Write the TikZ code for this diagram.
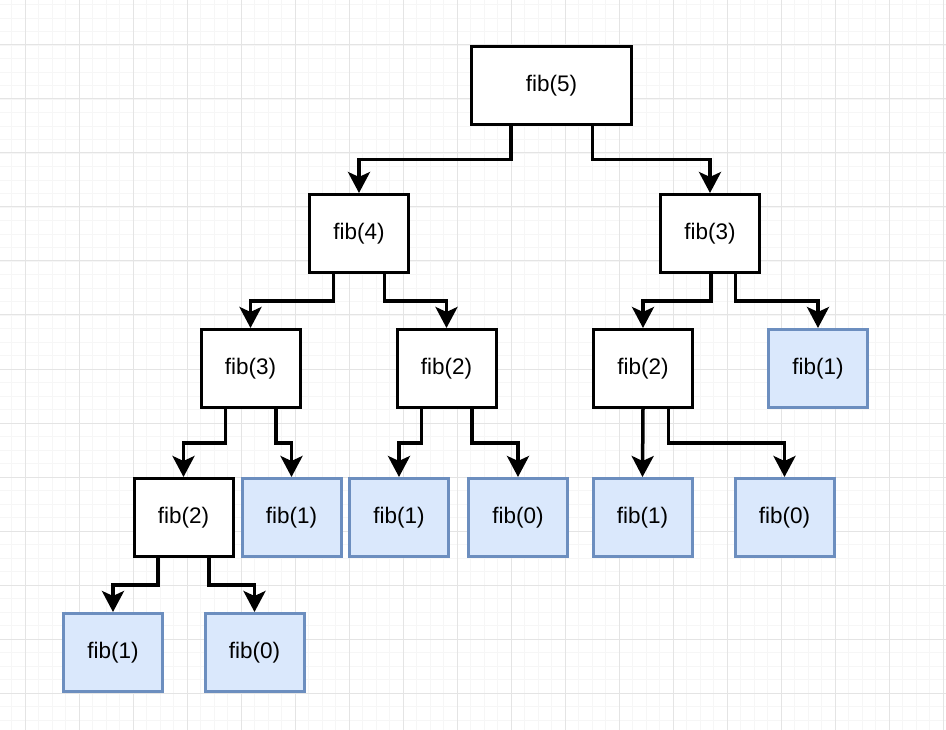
\documentclass[tikz,border=0pt]{standalone}
\usepackage{fontspec}
\setmainfont{Liberation Sans}
\usetikzlibrary{arrows.meta,calc}
\definecolor{gridmajor}{HTML}{E4E4E4}
\definecolor{gridminor}{HTML}{F6F6F6}
\definecolor{leaffill}{HTML}{DAE8FC}
\definecolor{leafdraw}{HTML}{6C8EBF}
\begin{document}
\begin{tikzpicture}[x=1pt,y=-1pt,
  box/.style={draw=black, line width=3pt, fill=white, minimum width=99pt,
    minimum height=78pt, inner sep=0pt, font=\fontsize{22.5}{27}\selectfont},
  wide/.style={box, minimum width=160pt},
  leaf/.style={box, draw=leafdraw, fill=leaffill},
  conn/.style={line width=3.5pt, line join=miter,
    -{Stealth[length=21pt,width=22pt,inset=5pt]}},
  elbow/.style={to path={|- ($(\tikztostart)!0.5!(\tikztotarget)$) -| (\tikztotarget) \tikztonodes}},
  minorline/.style={draw=gridminor, line width=0.8pt},
  majorline/.style={draw=gridmajor, line width=1pt}
]
% canvas and grid
\fill[white] (0,0) rectangle (946,730);
\useasboundingbox (0,0) rectangle (946,730);
\foreach \i in {0,...,69} \draw[minorline] ({11.5+13.5*\i},0) -- ({11.5+13.5*\i},730);
\foreach \j in {0,...,53} \draw[minorline] (0,{4.5+13.5*\j}) -- (946,{4.5+13.5*\j});
\foreach \i in {0,...,17} \draw[majorline] ({25+54*\i},0) -- ({25+54*\i},730);
\foreach \j in {0,...,12} \draw[majorline] (0,{45+54*\j}) -- (946,{45+54*\j});

% call tree nodes
\node[wide] (f5)  at (551.5,85.5) {fib(5)};
\node[box]  (f4)  at (359,233.5)  {fib(4)};
\node[box]  (f3r) at (710,233.5)  {fib(3)};
\node[box]  (f3l) at (250.5,368.5) {fib(3)};
\node[box]  (f2m) at (446.5,368.5) {fib(2)};
\node[box]  (f2r) at (643,368.5)  {fib(2)};
\node[leaf] (f1r) at (818,368.5)  {fib(1)};
\node[box]  (f2l) at (183.5,517.5) {fib(2)};
\node[leaf] (f1a) at (291.5,517.5) {fib(1)};
\node[leaf] (f1b) at (399,517.5)  {fib(1)};
\node[leaf] (f0a) at (518,517.5)  {fib(0)};
\node[leaf] (f1c) at (642.5,517.5) {fib(1)};
\node[leaf] (f0b) at (784.5,517.5) {fib(0)};
\node[leaf] (f1d) at (113,652.5)  {fib(1)};
\node[leaf] (f0d) at (254.5,652.5) {fib(0)};

% recursive calls
\draw[conn] ([xshift=-40.75pt]f5.south) to[elbow] (f4.north);
\draw[conn] ([xshift=40.75pt]f5.south)  to[elbow] (f3r.north);
\draw[conn] ([xshift=-25.5pt]f4.south)  to[elbow] (f3l.north);
\draw[conn] ([xshift=25.5pt]f4.south)   to[elbow] (f2m.north);
\draw[conn] ([xshift=1pt]f3r.south)     to[elbow] (f2r.north);
\draw[conn] ([xshift=25.5pt]f3r.south)  to[elbow] (f1r.north);
\draw[conn] ([xshift=-25.25pt]f3l.south) to[elbow] (f2l.north);
\draw[conn] ([xshift=25.25pt]f3l.south)  to[elbow] (f1a.north);
\draw[conn] ([xshift=-25.25pt]f2m.south) to[elbow] (f1b.north);
\draw[conn] ([xshift=25.25pt]f2m.south)  to[elbow] (f0a.north);
\draw[conn] (f2r.south) -- (f1c.north);
\draw[conn] ([xshift=25.5pt]f2r.south)  to[elbow] (f0b.north);
\draw[conn] ([xshift=-25.5pt]f2l.south) to[elbow] (f1d.north);
\draw[conn] ([xshift=25.5pt]f2l.south)  to[elbow] (f0d.north);
\end{tikzpicture}
\end{document}
